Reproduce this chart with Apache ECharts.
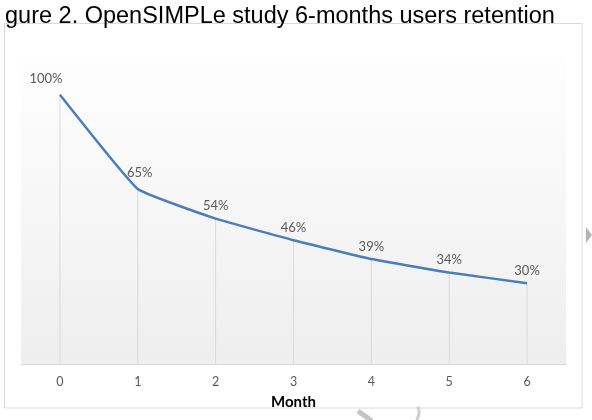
<!DOCTYPE html>
<html>
<head>
<meta charset="utf-8">
<script src="https://cdn.jsdelivr.net/npm/echarts@6/dist/echarts.min.js"></script>
<style>
  html, body { margin: 0; padding: 0; background: #fff; }
  #chart { width: 592px; height: 420px; }
</style>
</head>
<body>
<div id="chart"></div>
<script>
const months = ["0", "1", "2", "3", "4", "5", "6"];
const retention = [100, 65, 54, 46, 39, 34, 30];

const chart = echarts.init(document.getElementById("chart"));

const option = {
  animation: false,
  backgroundColor: "#fff",
  title: {
    text: "gure 2. OpenSIMPLe study 6-months users retention",
    left: 0,
    top: 0,
    textStyle: {
      fontFamily: "Liberation Sans",
      fontSize: 23.5,
      fontWeight: "normal",
      color: "#000",
    },
  },
  graphic: [
    {
      type: "rect",
      shape: { x: 4.5, y: 23.5, width: 577.5, height: 384.5 },
      style: { fill: "none", stroke: "#d9d9d9", lineWidth: 1 },
      z: -10,
    },
    // watermark fragments
    {
      type: "polygon",
      shape: { points: [[586, 227], [592, 235], [586, 243]] },
      style: { fill: "#b4b4b4" },
    },
    {
      type: "line",
      shape: { x1: 358, y1: 411, x2: 372, y2: 421 },
      style: { stroke: "#c4c4c4", lineWidth: 5 },
    },
    {
      type: "arc",
      shape: { cx: 405, cy: 412, r: 14, startAngle: -0.4, endAngle: 0.6 },
      style: { stroke: "#cfcfcf", lineWidth: 3, fill: "none" },
    },
  ],
  grid: {
    left: 21,
    right: 26,
    top: 41,
    bottom: 56,
    show: true,
    borderWidth: 0,
    backgroundColor: new echarts.graphic.LinearGradient(0, 0, 0, 1, [
      { offset: 0, color: "#ffffff" },
      { offset: 1, color: "#eeeeee" },
    ]),
  },
  xAxis: {
    type: "category",
    data: months,
    boundaryGap: true,
    name: "Month",
    nameLocation: "middle",
    nameGap: 31,
    nameTextStyle: {
      fontFamily: "Lato",
      fontSize: 15,
      fontWeight: "bold",
      color: "#000",
    },
    axisLine: { lineStyle: { color: "#d9d9d9", width: 1 } },
    axisTick: { show: false },
    axisLabel: {
      margin: 11,
      fontFamily: "Lato",
      fontSize: 12.5,
      color: "#595959",
    },
  },
  yAxis: {
    type: "value",
    min: 0,
    max: 120,
    interval: 20,
    show: false,
    splitLine: { show: false },
  },
  series: [
    {
      name: "drop",
      type: "bar",
      data: retention,
      barWidth: 1,
      silent: true,
      itemStyle: { color: "#d9d9d9" },
      z: 1,
    },
    {
      name: "Retention",
      type: "line",
      data: retention.map((v, i) => ({
        value: v,
        label: i === 0 ? { offset: [-14, -4] } : i === 1 ? { offset: [2, -4] } : {},
      })),
      showSymbol: true,
      symbol: "circle",
      symbolSize: 0,
      smooth: 0.1,
      lineStyle: { color: "#4a7ebb", width: 2.5 },
      itemStyle: { color: "#4a7ebb" },
      z: 3,
      label: {
        show: true,
        position: "top",
        distance: 6,
        formatter: "{c}%",
        fontFamily: "Lato",
        fontSize: 13,
        color: "#595959",
      },
    },
  ],
};

chart.setOption(option);
</script>
</body>
</html>
